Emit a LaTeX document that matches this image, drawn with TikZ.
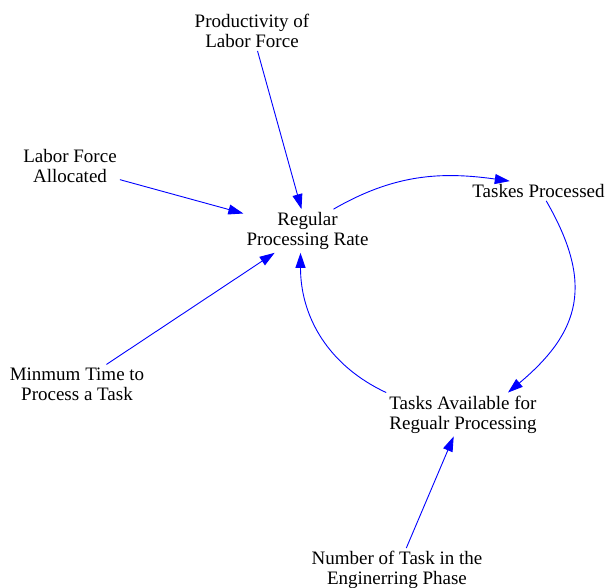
\documentclass[tikz,border=0pt]{standalone}
\usepackage{fontspec}
\setmainfont{Liberation Serif}
\usetikzlibrary{arrows.meta}

\tikzset{
  var/.style = {align=center, inner sep=3pt, font=\fontsize{19}{20}\selectfont},
  link/.style = {blue, line width=0.9pt, -{Triangle[length=15pt, width=10pt]}}
}

\begin{document}
\begin{tikzpicture}[x=1pt, y=1pt]
\useasboundingbox (0,0) rectangle (606,588);

\node[var] (prod) at (252,557) {Productivity of\\Labor Force};
\node[var] (lfa) at (70,422) {Labor Force\\Allocated};
\node[var] (reg) at (307.5,357) {Regular\\Processing Rate};
\node[var] (tp) at (538.5,397) {Taskes Processed};
\node[var] (mt) at (77,204) {Minmum Time to\\Process a Task};
\node[var] (ta) at (463,173.5) {Tasks Available for\\Regualr Processing};
\node[var] (num) at (397,18) {Number of Task in the\\Enginerring Phase};

\draw[link] (prod) -- (reg);
\draw[link] (lfa) -- (reg);
\draw[link] (mt) -- (reg);
\draw[link] (num) -- (ta);

\draw[link] (reg.40) to[out=30, in=172] (tp.161);
\draw[link] (tp.-52) to[out=-60, in=40, looseness=1.25] (ta.26);
\draw[link] (ta.north west) to[out=155, in=-90] ([xshift=-7pt]reg.south);
\end{tikzpicture}
\end{document}
